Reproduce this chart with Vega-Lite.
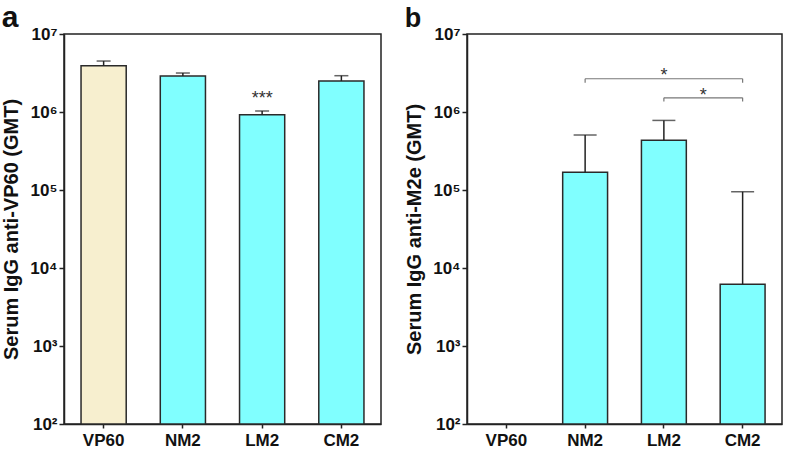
{
  "$schema": "https://vega.github.io/schema/vega-lite/v6.json",
  "padding": {"left": 0, "top": 2, "right": 2, "bottom": 0},
  "background": "white",
  "datasets": {
    "titers": [
      {"panel": "a", "group": "VP60", "value": 3930000, "upper": 4500000},
      {"panel": "a", "group": "NM2", "value": 2900000, "upper": 3160000},
      {"panel": "a", "group": "LM2", "value": 920000, "upper": 1030000},
      {"panel": "a", "group": "CM2", "value": 2500000, "upper": 2920000},
      {"panel": "b", "group": "NM2", "value": 169000, "upper": 507000},
      {"panel": "b", "group": "LM2", "value": 433000, "upper": 780000},
      {"panel": "b", "group": "CM2", "value": 6180, "upper": 95000}
    ],
    "brackets": [
      {"from": "NM2", "to": "CM2", "level": 2670000, "tickEnd": 2380000},
      {"from": "LM2", "to": "CM2", "level": 1520000, "tickEnd": 1360000}
    ]
  },
  "config": {
    "font": "Liberation Sans",
    "view": {"stroke": "#222222", "strokeWidth": 1.5},
    "axis": {
      "grid": false, "domainColor": "#222222", "domainWidth": 1.5,
      "tickColor": "#222222", "tickWidth": 1.5,
      "labelFont": "Liberation Sans", "labelFontSize": 17, "labelFontWeight": "bold", "labelColor": "#111111",
      "titleFont": "Liberation Sans", "titleFontSize": 20, "titleFontWeight": "bold", "titleColor": "#111111"
    },
    "axisX": {"tickSize": 4, "labelPadding": 4, "labelAngle": 0},
    "axisY": {"tickSize": 5, "labelPadding": 2, "titlePadding": 8},
    "title": {"font": "Liberation Sans", "fontWeight": "bold", "color": "#111111", "anchor": "start", "frame": "bounds", "offset": -8}
  },
  "spacing": 21,
  "hconcat": [
    {
      "title": {"text": "a", "fontSize": 30},
      "width": 317,
      "height": 390,
      "layer": [
        {
          "data": {"name": "titers"},
          "transform": [{"filter": "datum.panel === 'a'"}],
          "mark": {"type": "bar", "stroke": "#2a2a2a", "strokeWidth": 1.5},
          "encoding": {
            "x": {"field": "group", "type": "nominal", "title": null, "scale": {"domain": ["VP60", "NM2", "LM2", "CM2"], "paddingInner": 0.43, "paddingOuter": 0.215}},
            "y": {"field": "value", "type": "quantitative", "title": "Serum IgG anti-VP60 (GMT)", "scale": {"type": "log", "domain": [100, 10000000], "nice": false}, "axis": {"values": [100, 1000, 10000, 100000, 1000000, 10000000], "labelExpr": "'10' + substring('⁰¹²³⁴⁵⁶⁷', round(log(datum.value)/LN10), round(log(datum.value)/LN10)+1)"}},
            "y2": {"datum": 100},
            "color": {"field": "group", "type": "nominal", "scale": {"domain": ["VP60", "NM2", "LM2", "CM2"], "range": ["#F7EFCF", "#80FFFF", "#80FFFF", "#80FFFF"]}, "legend": null}
          }
        },
        {
          "data": {"name": "titers"},
          "transform": [{"filter": "datum.panel === 'a'"}],
          "mark": {"type": "rule", "color": "#222222", "strokeWidth": 1.5},
          "encoding": {
            "x": {"field": "group", "type": "nominal", "title": null},
            "y": {"field": "value", "type": "quantitative", "title": "Serum IgG anti-VP60 (GMT)", "scale": {"type": "log"}},
            "y2": {"field": "upper"}
          }
        },
        {
          "data": {"name": "titers"},
          "transform": [{"filter": "datum.panel === 'a'"}],
          "mark": {"type": "tick", "orient": "horizontal", "size": 14, "thickness": 1.5, "color": "#222222"},
          "encoding": {
            "x": {"field": "group", "type": "nominal", "title": null},
            "y": {"field": "upper", "type": "quantitative", "title": "Serum IgG anti-VP60 (GMT)", "scale": {"type": "log"}}
          }
        },
        {
          "data": {"values": [{"label": "***"}]},
          "mark": {"type": "text", "fontSize": 18, "color": "#333333", "align": "center", "baseline": "alphabetic"},
          "encoding": {
            "x": {"datum": "LM2", "type": "nominal", "title": null},
            "y": {"datum": 1270000, "type": "quantitative", "title": "Serum IgG anti-VP60 (GMT)", "scale": {"type": "log"}},
            "text": {"field": "label"}
          }
        }
      ]
    },
    {
      "title": {"text": "b", "fontSize": 27},
      "width": 315,
      "height": 390,
      "layer": [
        {
          "data": {"name": "titers"},
          "transform": [{"filter": "datum.panel === 'b'"}],
          "mark": {"type": "bar", "stroke": "#2a2a2a", "strokeWidth": 1.5},
          "encoding": {
            "x": {"field": "group", "type": "nominal", "title": null, "scale": {"domain": ["VP60", "NM2", "LM2", "CM2"], "paddingInner": 0.43, "paddingOuter": 0.215}},
            "y": {"field": "value", "type": "quantitative", "title": "Serum IgG anti-M2e (GMT)", "scale": {"type": "log", "domain": [100, 10000000], "nice": false}, "axis": {"values": [100, 1000, 10000, 100000, 1000000, 10000000], "labelExpr": "'10' + substring('⁰¹²³⁴⁵⁶⁷', round(log(datum.value)/LN10), round(log(datum.value)/LN10)+1)"}},
            "y2": {"datum": 100},
            "color": {"field": "group", "type": "nominal", "scale": {"domain": ["VP60", "NM2", "LM2", "CM2"], "range": ["#F7EFCF", "#80FFFF", "#80FFFF", "#80FFFF"]}, "legend": null}
          }
        },
        {
          "data": {"name": "titers"},
          "transform": [{"filter": "datum.panel === 'b'"}],
          "mark": {"type": "rule", "color": "#222222", "strokeWidth": 1.5},
          "encoding": {
            "x": {"field": "group", "type": "nominal", "title": null},
            "y": {"field": "value", "type": "quantitative", "title": "Serum IgG anti-M2e (GMT)", "scale": {"type": "log"}},
            "y2": {"field": "upper"}
          }
        },
        {
          "data": {"name": "titers"},
          "transform": [{"filter": "datum.panel === 'b'"}],
          "mark": {"type": "tick", "orient": "horizontal", "size": 23, "thickness": 1.5, "color": "#222222"},
          "encoding": {
            "x": {"field": "group", "type": "nominal", "title": null},
            "y": {"field": "upper", "type": "quantitative", "title": "Serum IgG anti-M2e (GMT)", "scale": {"type": "log"}}
          }
        },
        {
          "data": {"name": "brackets"},
          "mark": {"type": "rule", "color": "#777777", "strokeWidth": 1.2},
          "encoding": {
            "x": {"field": "from", "type": "nominal", "title": null},
            "x2": {"field": "to"},
            "y": {"field": "level", "type": "quantitative", "title": "Serum IgG anti-M2e (GMT)", "scale": {"type": "log"}}
          }
        },
        {
          "data": {"name": "brackets"},
          "mark": {"type": "rule", "color": "#777777", "strokeWidth": 1.2},
          "encoding": {
            "x": {"field": "from", "type": "nominal", "title": null},
            "y": {"field": "level", "type": "quantitative", "title": "Serum IgG anti-M2e (GMT)", "scale": {"type": "log"}},
            "y2": {"field": "tickEnd"}
          }
        },
        {
          "data": {"name": "brackets"},
          "mark": {"type": "rule", "color": "#777777", "strokeWidth": 1.2},
          "encoding": {
            "x": {"field": "to", "type": "nominal", "title": null},
            "y": {"field": "level", "type": "quantitative", "title": "Serum IgG anti-M2e (GMT)", "scale": {"type": "log"}},
            "y2": {"field": "tickEnd"}
          }
        },
        {
          "data": {"values": [{"label": "*"}]},
          "mark": {"type": "text", "fontSize": 18, "color": "#333333", "align": "center", "baseline": "alphabetic"},
          "encoding": {
            "x": {"datum": "LM2", "type": "nominal", "title": null},
            "y": {"datum": 2480000, "type": "quantitative", "title": "Serum IgG anti-M2e (GMT)", "scale": {"type": "log"}},
            "text": {"field": "label"}
          }
        },
        {
          "data": {"values": [{"label": "*"}]},
          "mark": {"type": "text", "fontSize": 18, "color": "#333333", "align": "center", "baseline": "alphabetic"},
          "encoding": {
            "x": {"datum": "LM2", "type": "nominal", "bandPosition": 1.377, "title": null},
            "y": {"datum": 1370000, "type": "quantitative", "title": "Serum IgG anti-M2e (GMT)", "scale": {"type": "log"}},
            "text": {"field": "label"}
          }
        }
      ]
    }
  ]
}
